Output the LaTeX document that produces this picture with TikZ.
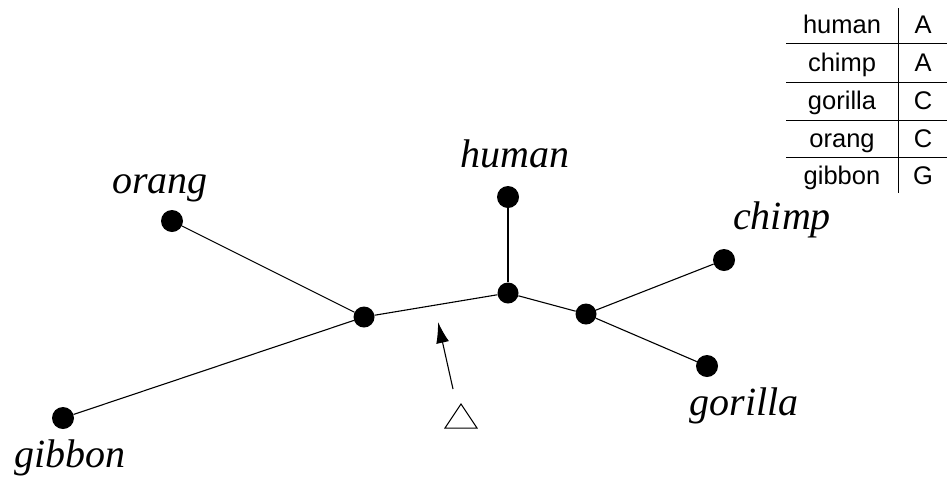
\documentclass[tikz,border=0pt]{standalone}
\usepackage{fontspec}
\setmainfont{Liberation Serif}
\setsansfont{Liberation Sans}
\usetikzlibrary{arrows.meta}
\begin{document}
\begin{tikzpicture}[x=1pt,y=-1pt,
  leaf/.style={circle,fill=black,inner sep=0pt,minimum size=22pt},
  inner/.style={circle,fill=black,inner sep=0pt,minimum size=21pt},
  edge/.style={line width=1.1pt},
  taxon/.style={anchor=base,inner sep=0pt,font=\fontsize{40}{44}\selectfont\itshape},
  cell/.style={anchor=base,inner sep=0pt,font=\sffamily\fontsize{25.5}{28}\selectfont},
  rule/.style={line width=0.9pt}]
\useasboundingbox (0,0) rectangle (947,483);

% tree
\node[leaf] (orang) at (172,221) {};
\node[leaf] (human) at (508,197) {};
\node[leaf] (chimp) at (724,260) {};
\node[leaf] (gorilla) at (707,366) {};
\node[leaf] (gibbon) at (63,418) {};
\node[inner] (u) at (364,317) {};
\node[inner] (v) at (508,293) {};
\node[inner] (w) at (586,314) {};

\draw[edge] (orang) -- (u);
\draw[edge] (gibbon) -- (u);
\draw[edge] (u) -- (v);
\draw[edge] (human) -- (v);
\draw[edge] (v) -- (w);
\draw[edge] (w) -- (chimp);
\draw[edge] (w) -- (gorilla);

\node[taxon] (lorang) at (160,193) {orang};
\node[taxon] (lhuman) at (515,167) {human};
\node[taxon] (lchimp) at (782,229) {chimp};
\node[taxon] (lgorilla) at (744,415) {gorilla};
\node[taxon] (lgibbon) at (70,467) {gibbon};

% root position marker
\draw[line width=1pt] (445,428) -- (461,404) -- (477,428) -- cycle;
\coordinate (tail) at (453,389);
\coordinate (tip) at (438,322);
\draw[line width=1.1pt,-{Latex[length=21pt,width=13pt]}] (tail) -- (tip);

% character table
\draw[rule] (898,8) -- (898,193);
\foreach \y in {43,82,120,157} \draw[rule] (786,\y) -- (947,\y);
\foreach \n/\c/\b [count=\i] in {human/A/33,chimp/A/71,gorilla/C/109,orang/C/147,gibbon/G/184} {
  \node[cell] (name\i) at (842,\b) {\n};
  \node[cell] (state\i) at (923,\b) {\c};
}
\end{tikzpicture}
\end{document}
